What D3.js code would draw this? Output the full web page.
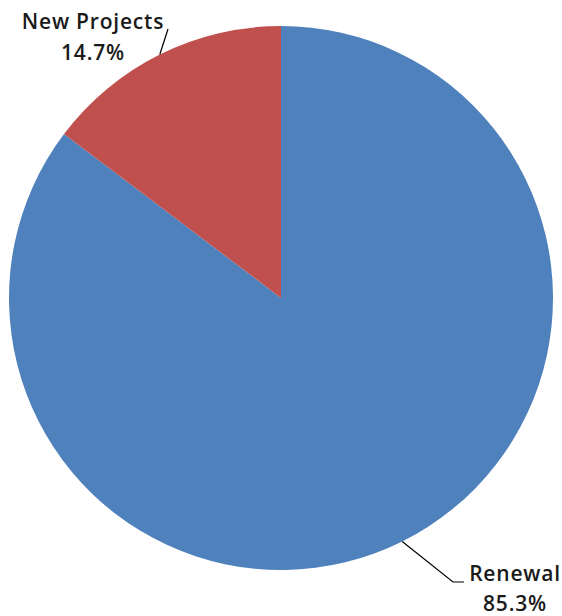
<!DOCTYPE html>
<html>
<head>
<meta charset="utf-8">
<script src="https://cdn.jsdelivr.net/npm/d3@7"></script>
<style>
  html, body { margin: 0; padding: 0; background: #fff; }
  svg { display: block; }
  text { font-family: "Open Sans", Lato, sans-serif; fill: #1a1a1a; }
</style>
</head>
<body>
<svg id="chart" width="562" height="616"></svg>
<script>
// Share of funding by project type
const categories = ["Renewal", "New Projects"];
const shares = [85.3, 14.7];
const valueLabels = ["85.3%", "14.7%"];
const colors = ["#4F81BD", "#C0504D"];

const W = 562, H = 616;
const cx = 281, cy = 298, R = 272;

const svg = d3.select("#chart");
const g = svg.append("g").attr("transform", `translate(${cx},${cy})`);

const pie = d3.pie().sort(null).value(d => d.v)
  .startAngle(0).endAngle(2 * Math.PI);
const arcs = pie(categories.map((c, i) => ({ c, v: shares[i], lbl: valueLabels[i], col: colors[i] })));

const arc = d3.arc().innerRadius(0).outerRadius(R);

g.selectAll("path.slice")
  .data(arcs)
  .join("path")
  .attr("class", "slice")
  .attr("d", arc)
  .attr("fill", d => d.data.col);

// point on the rim at the middle of a slice
function rimPoint(d, r) {
  const a = (d.startAngle + d.endAngle) / 2;
  return [r * Math.sin(a), -r * Math.cos(a)];
}

// label placement per slice (relative to the pie centre)
const labelSpec = {
  "Renewal": { path: p => [p, [172, 284], [183, 284]], x: 234, y1: 283, y2: 313 },
  "New Projects": { path: p => [p, [-113, -269]], x: -188, y1: -269, y2: -238 }
};

const line = d3.line();
arcs.forEach(d => {
  const spec = labelSpec[d.data.c];
  const p = rimPoint(d, R);
  g.append("path")
    .attr("d", line(spec.path(p)))
    .attr("fill", "none")
    .attr("stroke", "#000")
    .attr("stroke-width", 1.2);
  const t = g.append("text")
    .attr("text-anchor", "middle")
    .attr("font-size", 21)
    .attr("font-weight", 600)
    .attr("letter-spacing", 0.8);
  t.append("tspan").attr("x", spec.x).attr("y", spec.y1).text(d.data.c);
  t.append("tspan").attr("x", spec.x).attr("y", spec.y2).text(d.data.lbl);
});
</script>
</body>
</html>
